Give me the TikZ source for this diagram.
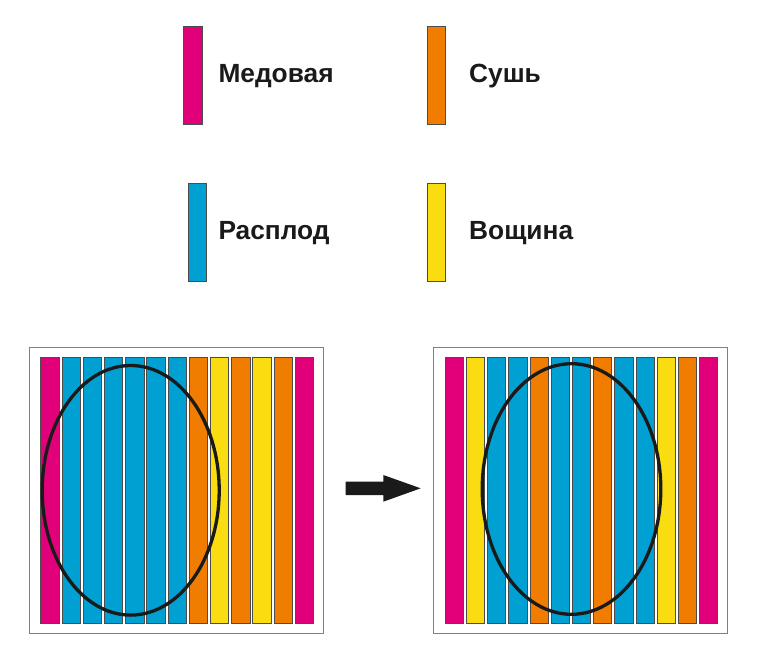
\documentclass[tikz,border=0pt]{standalone}
\usepackage{fontspec}
\setmainfont{Liberation Sans}
\definecolor{hon}{HTML}{E2007A}
\definecolor{bro}{HTML}{00A0D3}
\definecolor{dry}{HTML}{F07D00}
\definecolor{wax}{HTML}{FADD10}
\definecolor{ink}{HTML}{1A1A1A}
\begin{document}
\begin{tikzpicture}[x=1pt,y=-1pt,
  strip/.style={draw=black!70,line width=0.6pt},
  frame/.style={draw=black!50,line width=1pt},
  lbl/.style={anchor=base west,inner sep=0pt,text=ink,font=\fontsize{26.3}{30}\selectfont\bfseries},
  ring/.style={draw=ink,line width=3.3pt}]
\useasboundingbox (0,0) rectangle (762,668);
% legend
\filldraw[strip,fill=hon] (183.3,26) rectangle (202,124.3);
\filldraw[strip,fill=dry] (427.3,26) rectangle (445.3,124.3);
\filldraw[strip,fill=bro] (188.3,183.3) rectangle (206.3,281.7);
\filldraw[strip,fill=wax] (427.3,183.3) rectangle (445.3,281.7);
\node[lbl] (lh) at (218.3,82.3) {Медовая};
\node[lbl] (ld) at (469,82.3) {Сушь};
\node[lbl] (lb) at (218.3,240) {Расплод};
\node[lbl] (lw) at (469,240) {Вощина};
% left frame
\draw[frame] (29,347) rectangle (323,633);
\foreach \c [count=\i from 0] in {hon,bro,bro,bro,bro,bro,bro,dry,wax,dry,wax,dry,hon}
  \filldraw[strip,fill=\c] ({40.7+21.2*\i},357.3) rectangle ++(18.3,266);
\draw[ring] (130.7,490.3) ellipse [x radius=88.5, y radius=124.8];
% right frame
\draw[frame] (433.3,347.3) rectangle (727.3,633.3);
\foreach \c [count=\i from 0] in {hon,wax,bro,bro,dry,bro,bro,dry,bro,bro,wax,dry,hon}
  \filldraw[strip,fill=\c] ({445+21.2*\i},357.3) rectangle ++(18.3,266);
\draw[ring] (571.5,489) ellipse [x radius=89.3, y radius=125.3];
% arrow
\fill[ink] (345.7,481.7) -- (383.3,481.7) -- (383.3,475) -- (420.7,488.3) -- (383.3,501.7) -- (383.3,495) -- (345.7,495) -- cycle;
\end{tikzpicture}
\end{document}
